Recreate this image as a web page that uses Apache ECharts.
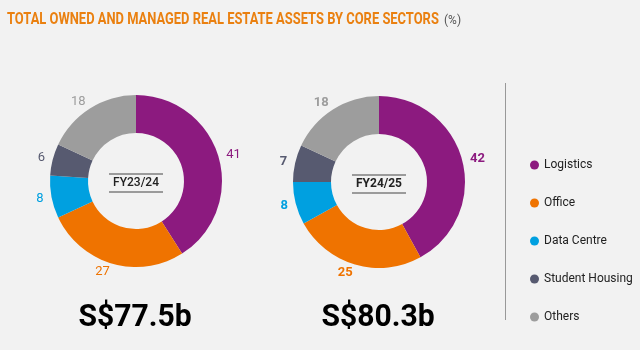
<!DOCTYPE html>
<html>
<head>
<meta charset="utf-8">
<style>
  html, body { margin: 0; padding: 0; background: #f2f2f2; }
  #chart { width: 640px; height: 350px; }
</style>
<script src="https://cdn.jsdelivr.net/npm/echarts@6/dist/echarts.min.js"></script>
</head>
<body>
<div id="chart"></div>
<script>
"use strict";

// sectors, same order in both years (clockwise from 12 o'clock)
let sectors = ['Logistics', 'Office', 'Data Centre', 'Student Housing', 'Others'];
let sectorColors = ['#8c1a7f', '#ef7300', '#00a0e0', '#575a70', '#9d9d9d'];

let years = ['FY23/24', 'FY24/25'];
let share2324 = [41, 27, 8, 6, 18];
let share2425 = [42, 25, 8, 7, 18];
let totals = ['S$77.5b', 'S$80.3b'];

let bodyFont = "Roboto, 'Noto Sans', sans-serif";

let chart = echarts.init(document.getElementById('chart'), null, { renderer: 'canvas' });

// one donut per year
function makePie(name, values, center, bold) {
  return {
    name: name,
    type: 'pie',
    center: center,
    radius: [48, 86],
    startAngle: 90,
    clockwise: true,
    avoidLabelOverlap: false,
    silent: true,
    label: {
      show: true,
      position: 'outside',
      formatter: '{c}',
      fontFamily: bodyFont,
      fontSize: 13,
      fontWeight: bold ? 'bold' : 'normal',
      distanceToLabelLine: 0
    },
    labelLine: { show: false, length: 8, length2: 0 },
    itemStyle: { borderWidth: 0 },
    emphasis: { disabled: true },
    data: sectors.map((s, i) => ({
      name: s,
      value: values[i],
      itemStyle: { color: sectorColors[i] },
      label: { color: sectorColors[i] }
    }))
  };
}

// year tag with a rule above and below, centred in the hole
function yearTag(cx, cy, text, bold) {
  return [
    { type: 'line', shape: { x1: cx - 27, y1: cy - 8, x2: cx + 27, y2: cy - 8 }, style: { stroke: '#444', lineWidth: 1 } },
    { type: 'line', shape: { x1: cx - 27, y1: cy + 10, x2: cx + 27, y2: cy + 10 }, style: { stroke: '#444', lineWidth: 1 } },
    {
      type: 'text', x: cx, y: cy + 1,
      style: {
        text: text, align: 'center', verticalAlign: 'middle',
        font: (bold ? 'bold ' : '500 ') + '12px ' + bodyFont, fill: '#222'
      }
    }
  ];
}

function totalText(cx, y, text) {
  return {
    type: 'text', x: cx, y: y, scaleX: 0.94,
    style: {
      text: text, align: 'center', verticalAlign: 'middle',
      font: 'bold 32px ' + bodyFont, fill: '#000'
    }
  };
}

let option = {
  backgroundColor: '#f2f2f2',
  animation: false,
  legend: {
    orient: 'vertical',
    left: 525,
    top: 154,
    icon: 'circle',
    itemWidth: 9,
    itemHeight: 9,
    itemGap: 26,
    selectedMode: false,
    textStyle: { fontFamily: bodyFont, fontSize: 12, color: '#222' },
    data: sectors
  },
  series: [
    makePie(years[0], share2324, [136, 181], false),
    makePie(years[1], share2425, [379, 182], true)
  ],
  graphic: [].concat(
    [
      // condensed headline: squeeze the bold face horizontally
      {
        type: 'text', x: 7, y: 20, scaleX: 0.76,
        style: {
          text: 'TOTAL OWNED AND MANAGED REAL ESTATE ASSETS BY CORE SECTORS',
          align: 'left', verticalAlign: 'middle',
          font: 'bold 17px ' + bodyFont, fill: '#ea8010'
        }
      },
      {
        type: 'text', x: 444, y: 21,
        style: {
          text: '(%)', align: 'left', verticalAlign: 'middle',
          font: '12px ' + bodyFont, fill: '#555'
        }
      }
    ],
    yearTag(136, 182, years[0], false),
    yearTag(379, 183, years[1], true),
    [
      totalText(135, 318, totals[0]),
      totalText(378, 318, totals[1]),
      { type: 'line', shape: { x1: 505.5, y1: 83, x2: 505.5, y2: 320 }, style: { stroke: '#999', lineWidth: 1 } }
    ]
  )
};

chart.setOption(option);
</script>
</body>
</html>
